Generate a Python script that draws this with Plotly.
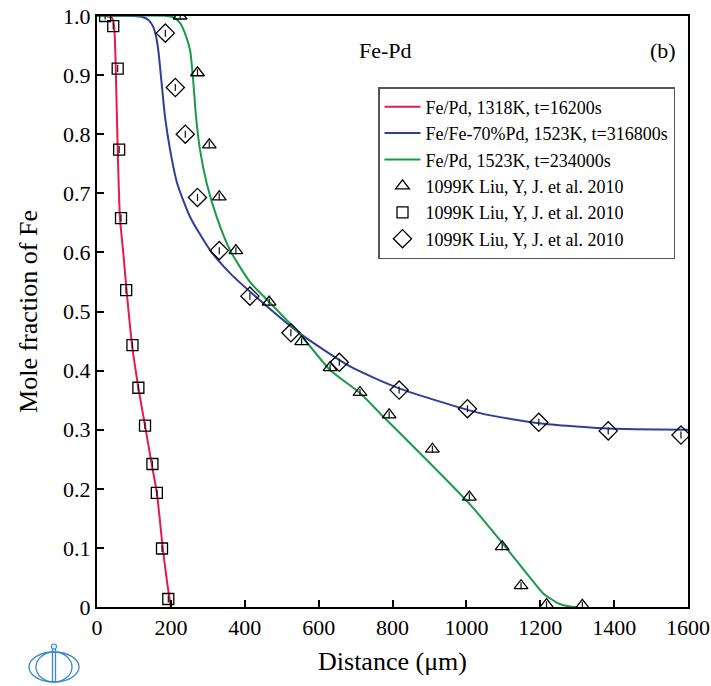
import plotly.graph_objects as go

# ---------------- data ----------------
red_x = [20, 40, 46, 50, 55, 62, 71, 80, 95, 112, 130, 148, 162, 178, 190, 200]
red_y = [1.0, 0.997, 0.985, 0.93, 0.80, 0.66, 0.60, 0.536, 0.443, 0.371, 0.307, 0.242, 0.193, 0.10, 0.041, 0.0]

blue_x = [0, 100, 125, 140, 152, 160, 166, 175, 184, 198, 217, 252, 306, 360, 441, 549, 685, 818, 1037, 1196, 1384, 1600]
blue_y = [1.0, 1.0, 0.998, 0.993, 0.982, 0.965, 0.942, 0.886, 0.83, 0.773, 0.717, 0.66, 0.604, 0.565, 0.519, 0.463, 0.407, 0.37, 0.328, 0.311, 0.302, 0.300]

green_x = [0, 190, 210, 225, 238, 252, 261, 268, 279, 297, 324, 360, 414, 468, 549, 631, 712, 775, 838, 1008, 1091, 1163, 1208, 1253, 1290, 1300]
green_y = [1.0, 1.0, 0.997, 0.988, 0.971, 0.942, 0.886, 0.83, 0.773, 0.717, 0.66, 0.604, 0.55, 0.515, 0.462, 0.401, 0.362, 0.322, 0.283, 0.175, 0.113, 0.057, 0.023, 0.005, 0.0, 0.0]

tri_x = [225, 272, 304, 331, 376, 466, 554, 631, 712, 791, 908, 1008, 1097, 1148, 1217, 1314]
tri_y = [1.0, 0.904, 0.782, 0.694, 0.603, 0.516, 0.449, 0.405, 0.363, 0.325, 0.267, 0.186, 0.102, 0.036, 0.004, 0.003]

sq_x = [22, 44, 56, 60, 65, 79, 96, 112, 130, 150, 162, 176, 193]
sq_y = [1.0, 0.983, 0.911, 0.774, 0.658, 0.536, 0.443, 0.371, 0.307, 0.242, 0.193, 0.099, 0.0135]

dia_x = [185, 212, 239, 272, 331, 414, 525, 656, 818, 1003, 1196, 1384, 1581]
dia_y = [0.971, 0.879, 0.800, 0.693, 0.603, 0.526, 0.464, 0.414, 0.367, 0.3355, 0.3125, 0.298, 0.291]

line_names = ["Fe/Pd, 1318K, t=16200s",
              "Fe/Fe-70%Pd, 1523K, t=316800s",
              "Fe/Pd, 1523K, t=234000s"]
marker_name = "1099K Liu, Y, J. et al. 2010"

x_ticks = [0, 200, 400, 600, 800, 1000, 1200, 1400, 1600]
y_ticks = [0, 0.1, 0.2, 0.3, 0.4, 0.5, 0.6, 0.7, 0.8, 0.9, 1.0]
y_ticktext = ["0", "0.1", "0.2", "0.3", "0.4", "0.5", "0.6", "0.7", "0.8", "0.9", "1.0"]

# ---------------- figure ----------------
FONT = "Liberation Serif"
W, H = 711, 686
ML, MR, MT, MB = 97, 23, 16, 79
PW, PH = W - ML - MR, H - MT - MB

fig = go.Figure()

line_colors = ["#e8194b", "#2f3f99", "#1c9a4a"]
for i, (xs, ys) in enumerate([(red_x, red_y), (blue_x, blue_y), (green_x, green_y)]):
    fig.add_trace(go.Scatter(x=xs, y=ys, mode="lines", name=line_names[i],
                             legendgroup="g%d" % i,
                             line=dict(color=line_colors[i], width=2, shape="spline", smoothing=0.6)))

mk = [("triangle-up-open", tri_x, tri_y, 12),
      ("square-open", sq_x, sq_y, 11),
      ("diamond-open", dia_x, dia_y, 14)]
for j, (sym, xs, ys, sz) in enumerate(mk):
    fig.add_trace(go.Scatter(x=xs, y=ys, mode="markers", name=marker_name,
                             legendgroup="m%d" % j,
                             marker=dict(symbol=sym, size=sz, color="black",
                                         line=dict(color="#111111", width=1.3))))
    fig.add_trace(go.Scatter(x=xs, y=ys, mode="markers", showlegend=False,
                             legendgroup="m%d" % j, hoverinfo="skip",
                             marker=dict(symbol="line-ns", size=5, color="black",
                                         line=dict(color="#111111", width=1.2))))

fig.update_layout(
    width=W, height=H,
    margin=dict(l=ML, r=MR, t=MT, b=MB, autoexpand=False),
    paper_bgcolor="white", plot_bgcolor="white",
    font=dict(family=FONT, color="black", size=22),
    showlegend=True,
    legend=dict(x=(378 - ML) / PW, y=(H - MB - 87) / PH, xanchor="left", yanchor="top",
                bgcolor="white", bordercolor="#555555", borderwidth=1.5,
                font=dict(family=FONT, size=18, color="black"),
                traceorder="grouped", tracegroupgap=0, itemwidth=36),
)

fig.update_xaxes(range=[0, 1600], tickvals=x_ticks, ticks="inside", ticklen=7, tickwidth=2,
                 tickcolor="black", showline=True, linecolor="black", linewidth=2, mirror=True,
                 showgrid=False, zeroline=False, automargin=False, tickfont=dict(family=FONT, size=22),
                 title=dict(text="Distance (μm)", font=dict(family=FONT, size=26), standoff=12))
fig.update_yaxes(range=[0, 1.0], tickvals=y_ticks, ticktext=y_ticktext, ticks="inside", ticklen=7,
                 tickwidth=2, tickcolor="black", showline=True, linecolor="black", linewidth=2,
                 mirror=True, showgrid=False, zeroline=False, automargin=False,
                 tickfont=dict(family=FONT, size=22),
                 title=dict(text="Mole fraction of Fe", font=dict(family=FONT, size=26), standoff=18))

def px(xp):
    return (xp - ML) / PW

def py(yp):
    return (H - MB - yp) / PH

fig.add_annotation(x=px(385), y=py(51), xref="paper", yref="paper", text="Fe-Pd",
                   xanchor="center", yanchor="middle",
                   showarrow=False, font=dict(family=FONT, size=22, color="black"))
fig.add_annotation(x=px(663), y=py(51), xref="paper", yref="paper", text="(b)",
                   xanchor="center", yanchor="middle",
                   showarrow=False, font=dict(family=FONT, size=22, color="black"))

# logo (bottom-left)
lc = "#3a88cf"
fig.add_shape(type="circle", xref="paper", yref="paper", x0=px(29), x1=px(79), y0=py(682), y1=py(652),
              line=dict(color=lc, width=1.3))
fig.add_shape(type="circle", xref="paper", yref="paper", x0=px(36), x1=px(72), y0=py(682), y1=py(652),
              line=dict(color=lc, width=1.3))
for xv in (52.5, 55.5):
    fig.add_shape(type="line", xref="paper", yref="paper", x0=px(xv), x1=px(xv), y0=py(682), y1=py(649),
                  line=dict(color=lc, width=1.3))
fig.add_shape(type="circle", xref="paper", yref="paper", x0=px(51.5), x1=px(56.5), y0=py(649), y1=py(644),
              line=dict(color=lc, width=1.2))

fig.write_html("out.html")
